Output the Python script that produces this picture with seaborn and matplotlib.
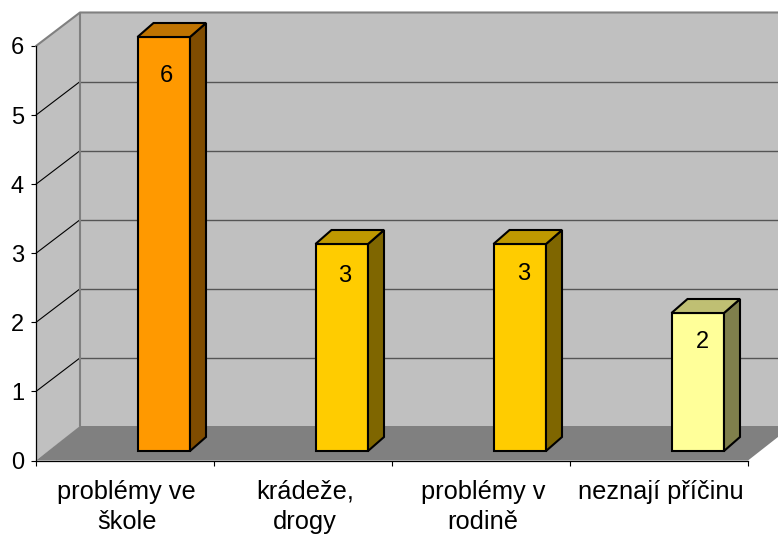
import matplotlib
matplotlib.use("Agg")
import matplotlib.pyplot as plt
import seaborn as sns
from matplotlib.patches import Polygon

categories = ["problémy ve\nškole", "krádeže,\ndrogy", "problémy v\nrodině", "neznají příčinu"]
values = [6, 3, 3, 2]
y_ticks = [0, 1, 2, 3, 4, 5, 6]

front_colors = ["#FF9900", "#FFCC00", "#FFCC00", "#FFFF99"]
side_colors = ["#7F4C00", "#7F6600", "#7F6600", "#7F7F4C"]
top_colors = ["#BF7300", "#BF9900", "#BF9900", "#BFBF73"]

# where the value text sits inside each bar, pixels from the bar's top centre
label_dx = [3, 3, 4, 5]
label_dy = [-38.5, -32, -30, -29]

W, H = 778, 534
sns.set_theme(style="white")
plt.rcParams["font.family"] = ["Liberation Sans", "DejaVu Sans"]

fig = plt.figure(figsize=(W / 100, H / 100), dpi=100, facecolor="white")

# front plane of the chart, holds the axis and the walls
ax = fig.add_axes([36 / W, 1 - 460.5 / H, 712 / W, 414.5 / H])
ax.set_xlim(-0.5, 3.5)
ax.set_ylim(0, 6)
ax.patch.set_visible(False)

# depth of the chart box in data units
dx = 44 / 178
dy = 33.5 / (414.5 / 6)
floor_dy = 34.5 / (414.5 / 6)
left = -0.5
right = 3.5

ax.add_patch(Polygon([(left, 0), (left + dx, dy), (left + dx, 6 + dy), (left, 6)],
                     fc="#C0C0C0", ec="none", zorder=1, clip_on=False))
ax.add_patch(Polygon([(left + dx, dy), (right + dx, dy), (right + dx, 6 + dy), (left + dx, 6 + dy)],
                     fc="#C0C0C0", ec="none", zorder=1, clip_on=False))
ax.add_patch(Polygon([(left, 0), (left + dx, floor_dy), (right + dx, floor_dy), (right, 0)],
                     fc="#808080", ec="none", zorder=1, clip_on=False))

for v in y_ticks[1:-1]:
    ax.plot([left, left + dx], [v, v + dy], color="black", lw=0.8, zorder=2, clip_on=False)
    ax.plot([left + dx, right + dx], [v + dy, v + dy], color="#555555", lw=1.0, zorder=2, clip_on=False)

# grey outline of the walls
ax.plot([left, left + dx, right + dx], [6, 6 + dy, 6 + dy], color="#808080", lw=1.5, zorder=2, clip_on=False)
ax.plot([left + dx, left + dx], [floor_dy, 6 + dy], color="#808080", lw=1.5, zorder=2, clip_on=False)

ax.set_yticks(y_ticks)
ax.set_xticks([-0.5, 0.5, 1.5, 2.5, 3.5])
ax.set_xticklabels([])
ax.set_xticks([0.01, 1.01, 2.01, 3.01], minor=True)
ax.set_xticklabels(categories, minor=True, linespacing=1.3)
ax.tick_params(axis="x", which="major", bottom=True, length=5 * 0.72, width=0.8, color="black")
ax.tick_params(axis="x", which="minor", bottom=False, length=0, pad=14, labelsize=18.3, labelcolor="black")
ax.tick_params(axis="y", left=True, length=5 * 0.72, width=0.8, color="black", pad=5, labelsize=17, labelcolor="black")
sns.despine(ax=ax, top=True, right=True)
for s in ["left", "bottom"]:
    ax.spines[s].set_color("black")
    ax.spines[s].set_linewidth(0.9)
    ax.spines[s].set_zorder(3)

# bars stand further back on the floor, so they get their own shifted axes
ax_bar = fig.add_axes([(36 + 38.75) / W, 1 - 451 / H, 712 / W, 414 / H], zorder=2)
sns.barplot(x=categories, y=values, hue=categories, palette=front_colors, dodge=False, saturation=1,
            width=52.5 / 178, edgecolor="black", linewidth=1.5, legend=False, ax=ax_bar)
ax_bar.set_xlim(-0.5, 3.5)
ax_bar.set_ylim(0, 6)
ax_bar.axis("off")

bar_dx = 16 / 178
bar_dy = 14 / (414 / 6)
for i, bar in enumerate(ax_bar.patches[:len(values)]):
    x0 = bar.get_x()
    x1 = x0 + bar.get_width()
    h = bar.get_height()
    bar.set_clip_on(False)
    ax_bar.add_patch(Polygon([(x1, 0), (x1 + bar_dx, bar_dy), (x1 + bar_dx, h + bar_dy), (x1, h)],
                             fc=side_colors[i], ec="black", lw=1.5, joinstyle="miter", clip_on=False))
    ax_bar.add_patch(Polygon([(x0, h), (x0 + bar_dx, h + bar_dy), (x1 + bar_dx, h + bar_dy), (x1, h)],
                             fc=top_colors[i], ec="black", lw=1.5, joinstyle="miter", clip_on=False))
    ax_bar.annotate(str(values[i]), xy=((x0 + x1) / 2, h),
                    xytext=(label_dx[i] * 0.72, label_dy[i] * 0.72), textcoords="offset points",
                    ha="center", va="center", fontsize=17, color="black")

fig.savefig("out.png", dpi=100, facecolor="white")
